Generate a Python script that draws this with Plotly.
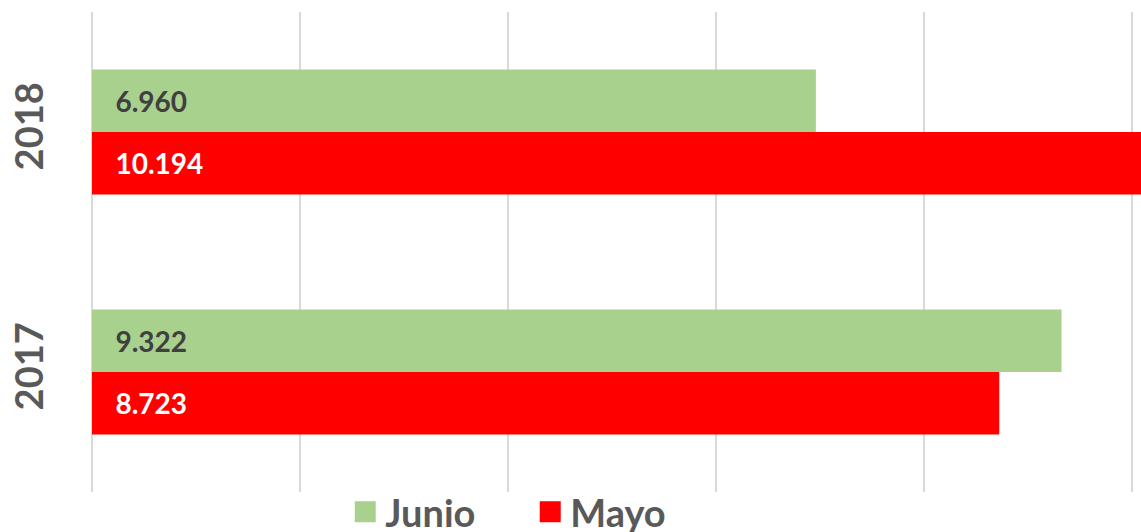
import plotly.graph_objects as go

years = ["2017", "2018"]
junio = [9322, 6960]
mayo = [8723, 10194]
series_names = ["Junio", "Mayo"]
x_ticks = [0, 2000, 4000, 6000, 8000, 10000]

GREEN = "#A9D18E"
RED = "#FF0000"
GRAY = "#595959"
FONT = "Lato"
PAD = "\u00a0\u00a0\u00a0"

fig = go.Figure()
# Mayo first so that it sits below Junio inside each group
fig.add_trace(go.Bar(
    y=years, x=mayo, orientation="h", name="Mayo", showlegend=False,
    marker=dict(color=RED, line=dict(width=0)),
    texttemplate=PAD + "%{x:,.0f}", textposition="inside", insidetextanchor="start",
    textangle=0, insidetextfont=dict(family=FONT, size=28, color="white", weight="bold"),
    hoverinfo="skip",
))
fig.add_trace(go.Bar(
    y=years, x=junio, orientation="h", name="Junio", showlegend=False,
    marker=dict(color=GREEN, line=dict(width=0)),
    texttemplate=PAD + "%{x:,.0f}", textposition="inside", insidetextanchor="start",
    textangle=0, insidetextfont=dict(family=FONT, size=28, color="#404040", weight="bold"),
    hoverinfo="skip",
))
# legend proxies (larger squares)
for name, col in zip(series_names, [GREEN, RED]):
    fig.add_trace(go.Scatter(
        x=[None], y=[None], mode="markers", name=name, showlegend=True,
        marker=dict(symbol="square", size=16, color=col, line=dict(color=col, width=5)),
    ))

fig.update_layout(
    width=1141, height=532,
    margin=dict(l=92, r=0, t=12, b=40, autoexpand=False),
    paper_bgcolor="white", plot_bgcolor="white",
    barmode="group", bargap=0.48, bargroupgap=0,
    separators=",.",
    font=dict(family=FONT, color=GRAY),
    showlegend=True,
    legend=dict(
        orientation="h", x=0.2414, xanchor="left", y=-0.042, yanchor="middle",
        font=dict(family=FONT, size=38, color=GRAY, weight="bold"),
        traceorder="normal", itemwidth=30, entrywidth=140,
        bgcolor="rgba(0,0,0,0)",
    ),
    xaxis=dict(
        range=[0, 10086], tickvals=x_ticks, showticklabels=False,
        showgrid=True, gridcolor="#D9D9D9", gridwidth=1.5,
        zeroline=True, zerolinecolor="#D9D9D9", zerolinewidth=1.5,
        showline=False, ticks="", automargin=False,
    ),
    yaxis=dict(
        type="category", categoryorder="array", categoryarray=years,
        range=[-0.5, 1.5], showgrid=False, zeroline=False, showline=False,
        tickangle=-90, ticks="", ticklabelstandoff=40, automargin=False,
        tickfont=dict(family=FONT, size=38, color=GRAY, weight="bold"),
    ),
)

fig.write_html(
    "out.html",
    config={"displayModeBar": False},
    post_script="document.body.style.margin='0';document.body.style.overflow='hidden';",
)
